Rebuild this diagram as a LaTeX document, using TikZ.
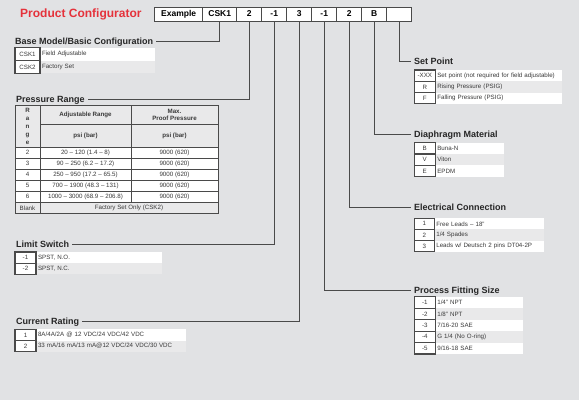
\documentclass[tikz,border=0pt]{standalone}
\usepackage{fontspec}
\setmainfont{Liberation Sans}
\usetikzlibrary{positioning}
\definecolor{pagebg}{HTML}{E1E2E4}
\definecolor{rowgrey}{HTML}{E9E9EA}
\definecolor{cfgred}{HTML}{E5323B}
\definecolor{rulegrey}{HTML}{4A4A4A}
\definecolor{txtgrey}{HTML}{3A3A3A}
\tikzset{
  hdrbox/.style={rectangle,draw=rulegrey,fill=white,line width=0.8pt,outer sep=0pt,inner sep=0pt,
    minimum width=25,minimum height=14,font=\fontsize{8.5}{10}\selectfont\bfseries,text=black},
  seclabel/.style={anchor=west,inner xsep=3pt,inner ysep=0pt,text height=6.5pt,text depth=0pt,
    font=\fontsize{9}{11}\selectfont\bfseries,text=black!85},
  optcode/.style={rectangle,draw=rulegrey,fill=white,line width=1.1pt,outer sep=0pt,inner sep=0pt,
    minimum width=21,minimum height=11.3,font=\fontsize{6.2}{7}\selectfont,text=txtgrey},
  optdesc/.style={rectangle,fill=white,outer sep=0pt,inner xsep=1.5pt,inner ysep=0pt,
    minimum height=11.3,text width=#1,align=left,font=\fontsize{6.2}{7}\selectfont,text=txtgrey},
  prcell/.style={rectangle,draw=rulegrey,fill=white,line width=0.8pt,outer sep=0pt,inner sep=0pt,
    anchor=north west,minimum height=11,font=\fontsize{6.2}{7}\selectfont,text=txtgrey,align=center},
  prhead/.style={prcell,fill=rowgrey,font=\fontsize{6.2}{7.5}\selectfont\bfseries},
  leader/.style={draw=rulegrey,line width=0.9pt},
}
\begin{document}
\begin{tikzpicture}[x=1pt,y=-1pt]
  \fill[pagebg] (0,0) rectangle (579,400);
  \node[anchor=west,inner sep=0pt,font=\fontsize{12}{14}\selectfont\bfseries,text=cfgred] (title)
    at (20,14) {Product Configurator};
  % example part number
  \node[hdrbox,minimum width=48,anchor=north west] (hex) at (154.7,7) {Example};
  \node[hdrbox,minimum width=34,right=0pt of hex] (hcsk) {CSK1};
  \node[hdrbox,right=0pt of hcsk] (hpr) {2};
  \node[hdrbox,right=0pt of hpr] (hls) {-1};
  \node[hdrbox,right=0pt of hls] (hcr) {3};
  \node[hdrbox,right=0pt of hcr] (hpf) {-1};
  \node[hdrbox,right=0pt of hpf] (hec) {2};
  \node[hdrbox,right=0pt of hec] (hdm) {B};
  \node[hdrbox,right=0pt of hdm] (hsp) {};
  % section titles
  \node[seclabel] (base) at (12,41) {Base Model/Basic Configuration};
  \node[seclabel] (prange) at (13,99.3) {Pressure Range};
  \node[seclabel] (limsw) at (13,244.3) {Limit Switch};
  \node[seclabel] (curr) at (13,321.7) {Current Rating};
  \node[seclabel] (setpt) at (411,61.7) {Set Point};
  \node[seclabel] (diaph) at (411,134.3) {Diaphragm Material};
  \node[seclabel] (elec) at (411,207.7) {Electrical Connection};
  \node[seclabel] (fitting) at (411,290) {Process Fitting Size};
  % base model
  \node[optcode,minimum width=25,minimum height=12.8,anchor=north west] (bm1) at (15,47.7) {CSK1};
  \node[optdesc=111.5pt,minimum height=12.8,right=0.5pt of bm1] (bm1d) {Field Adjustable};
  \node[optcode,minimum width=25,minimum height=12.8,below=0pt of bm1] (bm2) {CSK2};
  \node[optdesc=111.5pt,minimum height=12.8,fill=rowgrey,right=0.5pt of bm2] (bm2d) {Factory Set};
  % pressure range
  \node[prhead,minimum width=25,minimum height=42.3,font=\fontsize{6.2}{8}\selectfont\bfseries] (prR)
    at (15,105) {R\\a\\n\\g\\e};
  \node[prhead,minimum width=91,minimum height=19.3] (prAdj) at (40,105) {Adjustable Range};
  \node[prhead,minimum width=87,minimum height=19.3] (prMax) at (131,105) {Max.\\Proof Pressure};
  \node[prhead,minimum width=91,minimum height=23] (prAdjU) at (40,124.3) {psi (bar)};
  \node[prhead,minimum width=87,minimum height=23] (prMaxU) at (131,124.3) {psi (bar)};
  \node[prcell,minimum width=25] (pr2) at (15,147.3) {2};
  \node[prcell,minimum width=91] (pr2a) at (40,147.3) {20 -- 120 (1.4 -- 8)};
  \node[prcell,minimum width=87] (pr2b) at (131,147.3) {9000 (620)};
  \node[prcell,minimum width=25] (pr3) at (15,158.3) {3};
  \node[prcell,minimum width=91] (pr3a) at (40,158.3) {90 -- 250 (6.2 -- 17.2)};
  \node[prcell,minimum width=87] (pr3b) at (131,158.3) {9000 (620)};
  \node[prcell,minimum width=25] (pr4) at (15,169.3) {4};
  \node[prcell,minimum width=91] (pr4a) at (40,169.3) {250 -- 950 (17.2 -- 65.5)};
  \node[prcell,minimum width=87] (pr4b) at (131,169.3) {9000 (620)};
  \node[prcell,minimum width=25] (pr5) at (15,180.3) {5};
  \node[prcell,minimum width=91] (pr5a) at (40,180.3) {700 -- 1900 (48.3 -- 131)};
  \node[prcell,minimum width=87] (pr5b) at (131,180.3) {9000 (620)};
  \node[prcell,minimum width=25] (pr6) at (15,191.3) {6};
  \node[prcell,minimum width=91] (pr6a) at (40,191.3) {1000 -- 3000 (68.9 -- 206.8)};
  \node[prcell,minimum width=87] (pr6b) at (131,191.3) {9000 (620)};
  \node[prcell,fill=rowgrey,minimum width=25] (prB) at (15,202.3) {Blank};
  \node[prcell,fill=rowgrey,minimum width=178] (prBa) at (40,202.3) {Factory Set Only (CSK2)};
  % limit switch
  \node[optcode,anchor=north west,minimum height=11.2] (ls1) at (15,252) {-1};
  \node[optdesc=122.5pt,minimum height=11.2,right=0.5pt of ls1] (ls1d) {SPST, N.O.};
  \node[optcode,minimum height=11.2,below=0pt of ls1] (ls2) {-2};
  \node[optdesc=122.5pt,minimum height=11.2,fill=rowgrey,right=0.5pt of ls2] (ls2d) {SPST, N.C.};
  % current rating
  \node[optcode,anchor=north west,minimum height=11.2] (cr1) at (15,329.3) {1};
  \node[optdesc=146.5pt,minimum height=11.2,right=0.5pt of cr1] (cr1d) {8A/4A/2A @ 12 VDC/24 VDC/42 VDC};
  \node[optcode,minimum height=11.2,below=0pt of cr1] (cr2) {2};
  \node[optdesc=146.5pt,minimum height=11.2,fill=rowgrey,right=0.5pt of cr2] (cr2d)
    {33 mA/16 mA/13 mA@12 VDC/24 VDC/30 VDC};
  % set point
  \node[optcode,anchor=north west] (sp1) at (414.3,70) {-XXX};
  \node[optdesc=122.9pt,right=0.5pt of sp1] (sp1d) {Set point (not required for field adjustable)};
  \node[optcode,below=0pt of sp1] (sp2) {R};
  \node[optdesc=122.9pt,fill=rowgrey,right=0.5pt of sp2] (sp2d) {Rising Pressure (PSIG)};
  \node[optcode,below=0pt of sp2] (sp3) {F};
  \node[optdesc=122.9pt,right=0.5pt of sp3] (sp3d) {Falling Pressure (PSIG)};
  % diaphragm material
  \node[optcode,anchor=north west] (dm1) at (414.3,142.7) {B};
  \node[optdesc=65.5pt,right=0.5pt of dm1] (dm1d) {Buna-N};
  \node[optcode,below=0pt of dm1] (dm2) {V};
  \node[optdesc=65.5pt,fill=rowgrey,right=0.5pt of dm2] (dm2d) {Viton};
  \node[optcode,below=0pt of dm2] (dm3) {E};
  \node[optdesc=65.5pt,right=0.5pt of dm3] (dm3d) {EPDM};
  % electrical connection
  \node[optcode,anchor=north west,minimum width=20,minimum height=11.1] (ec1) at (414.3,218.3) {1};
  \node[optdesc=106.5pt,minimum height=11.1,right=0.5pt of ec1] (ec1d) {Free Leads -- 18"};
  \node[optcode,minimum width=20,minimum height=11.1,below=0pt of ec1] (ec2) {2};
  \node[optdesc=106.5pt,minimum height=11.1,fill=rowgrey,right=0.5pt of ec2] (ec2d) {1/4 Spades};
  \node[optcode,minimum width=20,minimum height=11.1,below=0pt of ec2] (ec3) {3};
  \node[optdesc=106.5pt,minimum height=11.1,right=0.5pt of ec3] (ec3d) {Leads w/ Deutsch 2 pins DT04-2P};
  % process fitting size
  \node[optcode,anchor=north west,minimum height=11.45] (pf1) at (414.3,296.7) {-1};
  \node[optdesc=84.5pt,minimum height=11.45,right=0.5pt of pf1] (pf1d) {1/4" NPT};
  \node[optcode,minimum height=11.45,below=0pt of pf1] (pf2) {-2};
  \node[optdesc=84.5pt,minimum height=11.45,fill=rowgrey,right=0.5pt of pf2] (pf2d) {1/8" NPT};
  \node[optcode,minimum height=11.45,below=0pt of pf2] (pf3) {-3};
  \node[optdesc=84.5pt,minimum height=11.45,right=0.5pt of pf3] (pf3d) {7/16-20 SAE};
  \node[optcode,minimum height=11.45,below=0pt of pf3] (pf4) {-4};
  \node[optdesc=84.5pt,minimum height=11.45,fill=rowgrey,right=0.5pt of pf4] (pf4d) {G 1/4 (No O-ring)};
  \node[optcode,minimum height=11.45,below=0pt of pf4] (pf5) {-5};
  \node[optdesc=84.5pt,minimum height=11.45,right=0.5pt of pf5] (pf5d) {9/16-18 SAE};
  % leaders from the part number
  \draw[leader] (hcsk.south) |- (base.east);
  \draw[leader] (hpr.south) |- (prange.east);
  \draw[leader] (hls.south) |- (limsw.east);
  \draw[leader] (hcr.south) |- (curr.east);
  \draw[leader] (hpf.south) |- (fitting.west);
  \draw[leader] (hec.south) |- (elec.west);
  \draw[leader] (hdm.south) |- (diaph.west);
  \draw[leader] (hsp.south) |- (setpt.west);
\end{tikzpicture}
\end{document}
